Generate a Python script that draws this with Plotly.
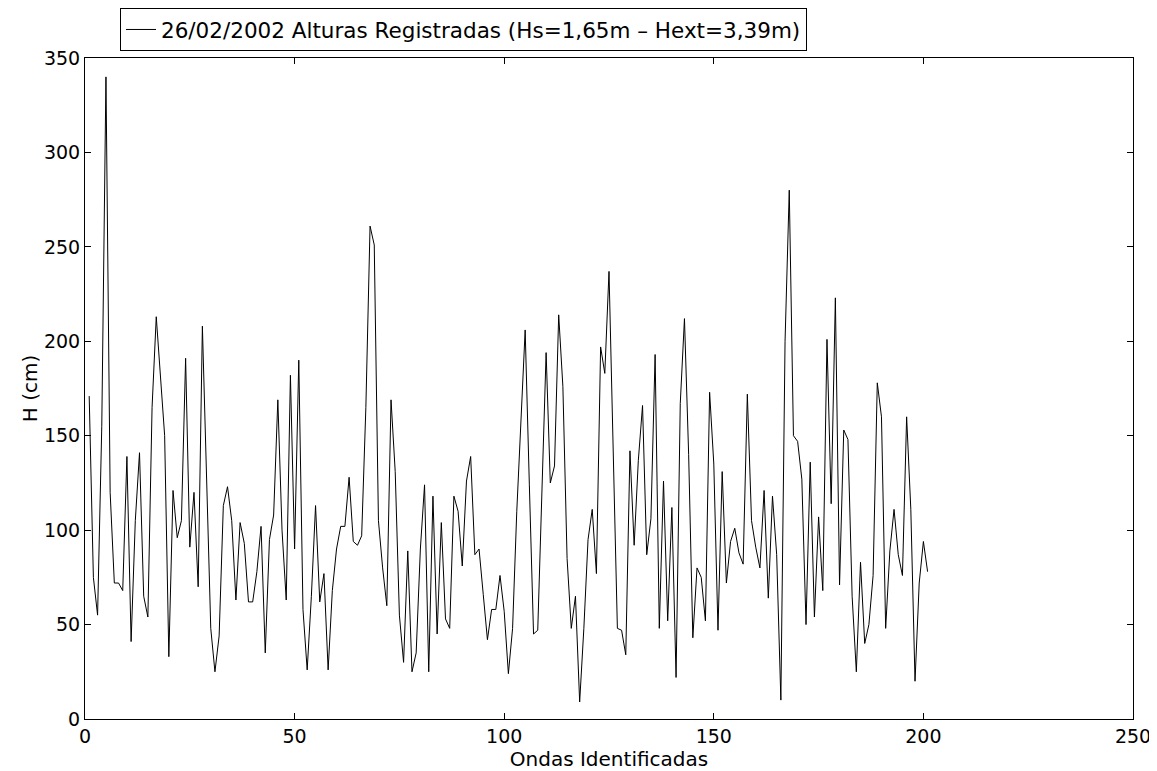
import plotly.graph_objects as go

heights = [
    171, 75, 55, 155, 340, 120, 72, 72, 68, 139,
    41, 105, 141, 65, 54, 165, 213, 182, 150, 33,
    121, 96, 105, 191, 91, 120, 70, 208, 125, 48,
    25, 44, 113, 123, 105, 63, 104, 93, 62, 62,
    78, 102, 35, 95, 108, 169, 100, 63, 182, 90,
    190, 58, 26, 65, 113, 62, 77, 26, 68, 90,
    102, 102, 128, 94, 92, 97, 165, 261, 251, 105,
    80, 60, 169, 131, 55, 30, 89, 25, 35, 90,
    124, 25, 118, 45, 104, 53, 48, 118, 110, 81,
    126, 139, 87, 90, 66, 42, 58, 58, 76, 57,
    24, 48, 110, 160, 206, 124, 45, 47, 124, 194,
    125, 134, 214, 176, 85, 48, 65, 9, 48, 95,
    111, 77, 197, 183, 237, 140, 48, 47, 34, 142,
    92, 137, 166, 87, 106, 193, 48, 126, 52, 112,
    22, 167, 212, 140, 43, 80, 75, 52, 173, 135,
    47, 131, 72, 94, 101, 88, 82, 172, 105, 91,
    80, 121, 64, 118, 87, 10, 200, 280, 150, 147,
    127, 50, 136, 54, 107, 68, 201, 114, 223, 71,
    153, 148, 65, 25, 83, 40, 50, 76, 178, 160,
    48, 89, 111, 87, 76, 160, 111, 20, 72, 94,
    78,
]
waves = list(range(1, len(heights) + 1))

x_ticks = [0, 50, 100, 150, 200, 250]
y_ticks = [0, 50, 100, 150, 200, 250, 300, 350]

FONT = "DejaVu Sans, Liberation Sans, Arial"

fig = go.Figure()
fig.add_trace(go.Scatter(
    x=waves, y=heights, mode="lines",
    line=dict(color="black", width=1),
    name="26/02/2002 Alturas Registradas (Hs=1,65m \u2013 Hext=3,39m)",
))

axis_common = dict(
    showline=True, linecolor="black", linewidth=1, mirror="allticks",
    ticks="inside", ticklen=6, tickcolor="black", tickwidth=1,
    showgrid=False, zeroline=False, automargin=False,
    tickfont=dict(family=FONT, size=19, color="black"),
)

fig.update_layout(
    width=1157, height=771,
    paper_bgcolor="white", plot_bgcolor="white",
    margin=dict(l=77, r=32, t=50, b=60, pad=0),
    font=dict(family=FONT, size=20, color="black"),
    showlegend=True,
    legend=dict(
        x=0.0334, xanchor="left", xref="paper",
        y=1.0, yanchor="top", yref="container",
        bordercolor="black", borderwidth=1, bgcolor="white",
        font=dict(family=FONT, size=21.5), tracegroupgap=0,
    ),
    xaxis=dict(range=[0, 250], tickvals=x_ticks,
               title=dict(text="Ondas Identificadas", standoff=0,
                          font=dict(family=FONT, size=20)), **axis_common),
    yaxis=dict(range=[0, 350], tickvals=y_ticks,
               title=dict(text="H (cm)", standoff=0,
                          font=dict(family=FONT, size=20)), **axis_common),
)

fig.write_html("out.html")
